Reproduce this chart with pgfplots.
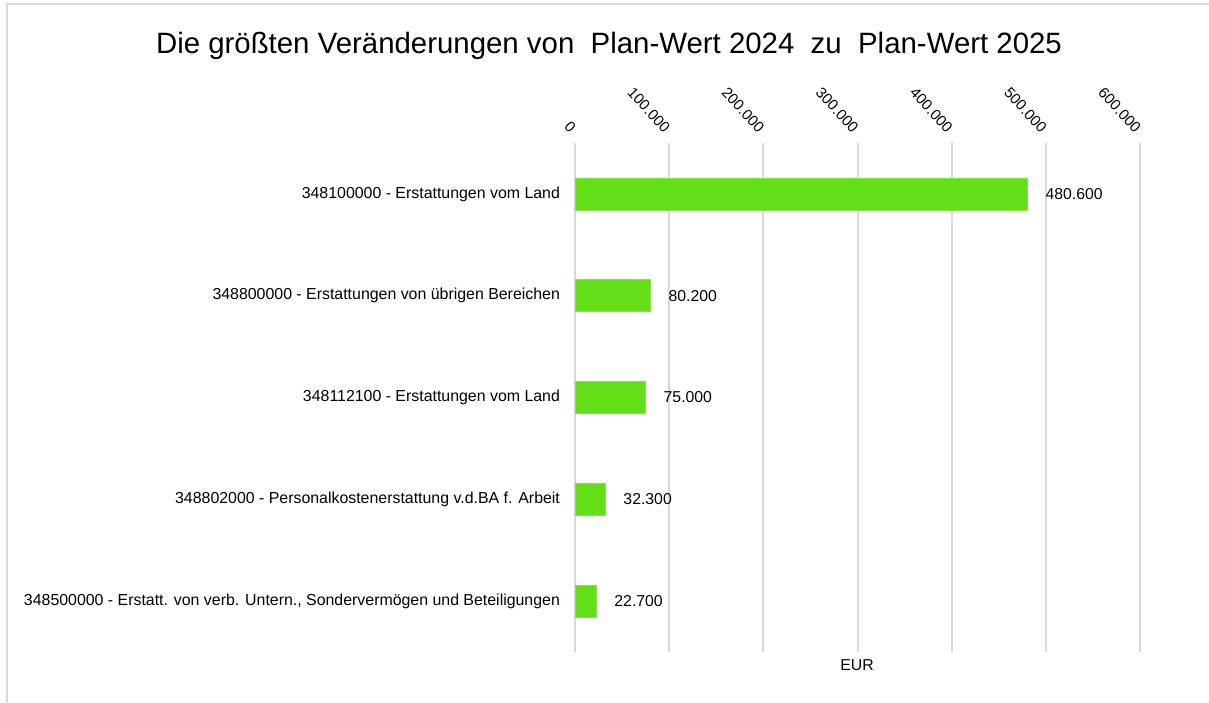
\documentclass[border=0pt]{standalone}
\usepackage{fontspec}
\setmainfont{Liberation Sans}
\usepackage{pgfplots}
\pgfplotsset{compat=1.18}
\definecolor{bargreen}{RGB}{99,223,24}
\definecolor{gridgray}{RGB}{217,217,217}
\pgfkeys{/pgf/number format/.cd, fixed, precision=0, 1000 sep={.}, assume math mode=true}
\begin{document}
\begin{tikzpicture}
% picture in pt: 1 px of the reference = 0.5pt
\useasboundingbox (0,0) rectangle (604.5pt,351pt);
\draw[gridgray, line width=0.8pt] (3.5pt,0) -- (3.5pt,349pt) -- (604.5pt,349pt);
\node at (304.5pt,328pt) {\fontsize{14.7}{17}\selectfont Die größten Veränderungen von\ \ Plan-Wert 2024\ \ zu\ \ Plan-Wert 2025};
\node at (428.5pt,18.5pt) {\fontsize{7.9}{9}\selectfont EUR};
\begin{axis}[
  at={(287.5pt,25pt)}, anchor=south west,
  scale only axis, width=282.5pt, height=254.5pt,
  xbar, bar width=16pt,
  xmin=0, xmax=600000,
  ymin=-0.5, ymax=4.5, y dir=reverse,
  ytick={0,...,4},
  yticklabels={
    348100000 - Erstattungen vom Land,
    348800000 - Erstattungen von übrigen Bereichen,
    348112100 - Erstattungen vom Land,
    348802000 - Personalkostenerstattung v.d.BA f. Arbeit,
    {348500000 - Erstatt. von verb. Untern., Sondervermögen und Beteiligungen}},
  xtick={0,100000,...,600000},
  scaled x ticks=false,
  xticklabel pos=upper,
  axis line style={draw=none},
  major tick length=0pt,
  xmajorgrids, grid style={gridgray, line width=1pt},
  xticklabel style={xshift=1.5pt, yshift=4pt, rotate=-47, anchor=east, font=\fontsize{7.5}{9}\selectfont},
  yticklabel style={xshift=-4pt, font=\fontsize{7.95}{10}\selectfont},
  nodes near coords,
  every node near coord/.append style={anchor=west, xshift=5.5pt, font=\fontsize{7.9}{9}\selectfont, black},
]
\addplot[fill=bargreen, draw=bargreen!80!white] coordinates {
  (480600,0) (80200,1) (75000,2) (32300,3) (22700,4)
};
\end{axis}
\end{tikzpicture}
\end{document}
